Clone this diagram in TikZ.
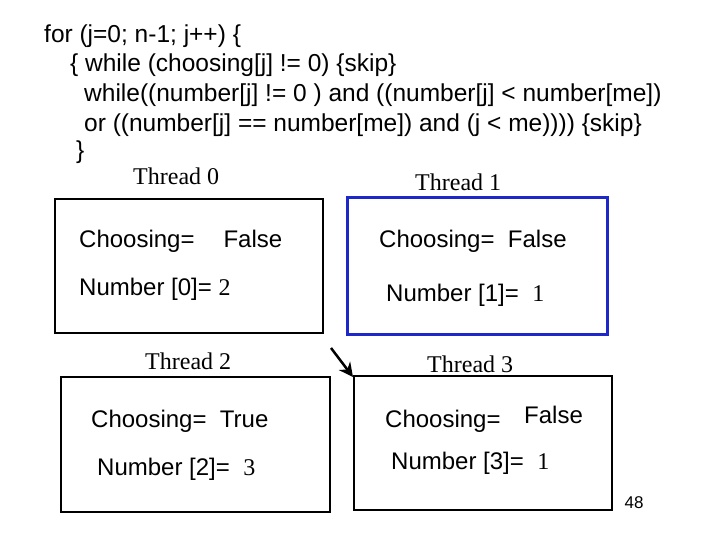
\documentclass[tikz,border=0pt]{standalone}
\usepackage{fontspec}
\setmainfont{Liberation Serif}
\setsansfont{Liberation Sans}
\usetikzlibrary{positioning,arrows.meta}
\definecolor{boxblue}{RGB}{30,40,200}
\tikzset{
  code/.style={anchor=west, inner sep=0pt, font=\sffamily\fontsize{24.5}{28}\selectfont},
  label/.style={anchor=west, inner sep=0pt, font=\fontsize{24}{28}\selectfont},
  field/.style={anchor=west, inner sep=0pt, font=\sffamily\fontsize{24}{28}\selectfont},
  threadbox/.style={draw=black, line width=1.5pt},
}
\begin{document}
\begin{tikzpicture}[x=1pt, y=-1pt]
	\useasboundingbox (0,0) rectangle (720,540);

	% code
	\node[code] (c1) at (44, 36) {for (j=0; n-1; j++) \{};
	\node[code] (c2) at (70, 65) {\{ while (choosing[j] != 0) \{skip\}};
	\node[code] (c3) at (84, 95) {while((number[j] != 0 ) and ((number[j] < number[me])};
	\node[code] (c4) at (84, 125) {or ((number[j] == number[me]) and (j < me)))) \{skip\}};
	\node[code] (c5) at (76, 152) {\}};

	% threads
	\node[label] (t0) at (133, 176) {Thread 0};
	\node[label] (t1) at (415, 182) {Thread 1};
	\node[label] (t2) at (145, 361) {Thread 2};
	\node[label] (t3) at (427, 364) {Thread 3};

	\draw[threadbox] (55, 199) rectangle (323, 333);
	\draw[threadbox, draw=boxblue, line width=3pt] (347, 198) rectangle (607, 334);
	\draw[threadbox] (61, 377) rectangle (330, 512);
	\draw[threadbox] (354, 376) rectangle (612, 510);

	\node[field] (ch0) at (79, 241) {Choosing=\hspace{29pt}False};
	\node[field] (nu0) at (79, 289) {Number [0]= \rmfamily 2};
	\node[field] (ch1) at (379, 241) {Choosing= \ False};
	\node[field] (nu1) at (386, 295) {Number [1]= \ \rmfamily 1};
	\node[field] (ch2) at (91, 421) {Choosing= \ True};
	\node[field] (nu2) at (97, 469) {Number [2]= \ \rmfamily 3};
	\node[field] (ch3) at (385, 421) {Choosing=};
	\node[field] (fa3) at (524, 415) {False};
	\node[field] (nu3) at (391, 463) {Number [3]= \ \rmfamily 1};

	\coordinate (a1) at (331, 348);
	\coordinate (a2) at (353, 377);
	\draw[line width=2.5pt, -{Stealth[length=14pt, width=14pt]}] (a1) -- (a2);

	\node[anchor=center, inner sep=0pt, font=\sffamily\fontsize{17}{20}\selectfont] (pg) at (634, 503) {48};
\end{tikzpicture}
\end{document}
